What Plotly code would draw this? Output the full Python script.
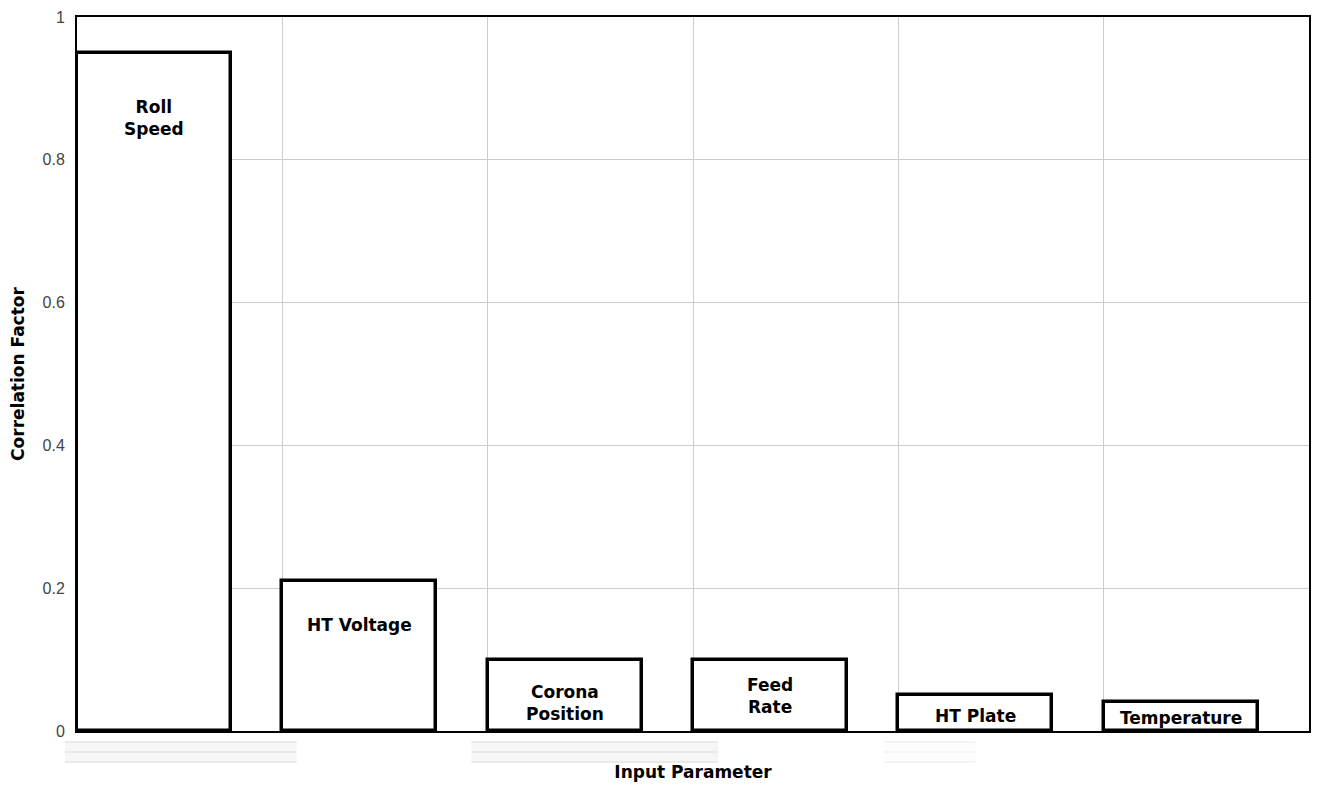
import plotly.graph_objects as go

categories = ["Roll<br>Speed", "HT Voltage", "Corona<br>Position", "Feed<br>Rate", "HT Plate", "Temperature"]
values = [0.95, 0.21, 0.10, 0.10, 0.05, 0.04]
label_y = [0.859, 0.148, 0.039, 0.049, 0.021, 0.018]
y_ticks = [0, 0.2, 0.4, 0.6, 0.8, 1]
y_tick_text = ["0", "0.2", "0.4", "0.6", "0.8", "1"]

xpos = list(range(len(categories)))

fig = go.Figure()
fig.add_trace(go.Bar(
    x=xpos, y=values, width=0.75, offset=0,
    marker=dict(color="white", line=dict(color="black", width=3.5)),
    hoverinfo="skip", showlegend=False,
))

bold_font = dict(family="DejaVu Sans", size=17, color="black", weight="bold")

for i, (lab, ly) in enumerate(zip(categories, label_y)):
    fig.add_annotation(x=i + 0.375, y=ly, text=lab, showarrow=False,
                       font=bold_font, xref="x", yref="y")

# faint decorative stripes below the axis (pixel -> paper conversion)
PL, PR, PT, PB = 77, 1311, 15, 731
def px(x):
    return (x - PL) / (PR - PL)
def py(y):
    return (PB - y) / (PB - PT)

for x0, x1, fill, line in [(65, 297, "#f6f6f6", "#e4e4e4"),
                           (472, 719, "#f6f6f6", "#e4e4e4"),
                           (885, 977, "#fdfdfd", "#f2f2f2")]:
    fig.add_shape(type="rect", xref="paper", yref="paper",
                  x0=px(x0), x1=px(x1), y0=py(762), y1=py(742),
                  fillcolor=fill, line=dict(width=0), layer="below")
    for yy in (742, 752, 762):
        fig.add_shape(type="line", xref="paper", yref="paper",
                      x0=px(x0), x1=px(x1), y0=py(yy), y1=py(yy),
                      line=dict(color=line, width=1.5))

fig.update_layout(
    width=1304, height=774,
    margin=dict(l=69, r=1, t=7, b=51),
    paper_bgcolor="white", plot_bgcolor="white",
    font=dict(family="Liberation Sans, Arial", color="black"),
    xaxis=dict(range=[0, 6], tickvals=[1, 2, 3, 4, 5], showticklabels=False,
               showgrid=True, gridcolor="#cccccc", gridwidth=1,
               showline=True, linecolor="black", linewidth=2, mirror=True,
               zeroline=False, ticks="", automargin=False,
               title=dict(text="Input Parameter", font=bold_font, standoff=42)),
    yaxis=dict(range=[0, 1], tickvals=y_ticks, ticktext=y_tick_text,
               showgrid=True, gridcolor="#cccccc", gridwidth=1,
               showline=True, linecolor="black", linewidth=2, mirror=True,
               zeroline=False, ticks="outside", ticklen=7, tickcolor="rgba(0,0,0,0)",
               ticklabeloverflow="allow",
               tickfont=dict(family="Liberation Sans, Arial", size=16, color="#444444"),
               title=dict(text="Correlation Factor", font=bold_font, standoff=14)),
    bargap=0,
)

fig.write_html("out.html")
